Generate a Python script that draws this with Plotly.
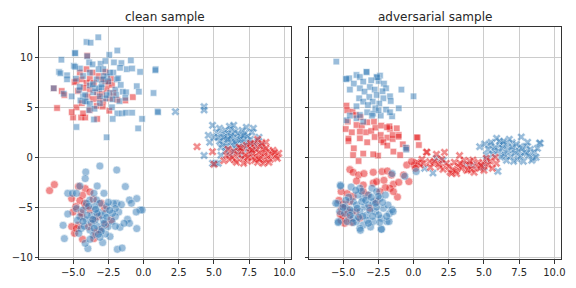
import plotly.graph_objects as go

RED = "#e41a1c"
BLUE = "#377eb8"

# ---------------- clean sample ----------------
clean_blue_sq = [(-3.21,12.0),(-4.05,11.53),(-3.76,11.46),(-4.86,10.44),(-1.86,10.68),(-2.43,10.24),(-5.83,9.76),
    (-4.0,10.1),(-3.86,9.49),(-3.62,9.29),(-3.05,9.35),(-2.71,9.63),(-2.1,9.49),(-1.57,9.42),(-0.9,9.69),(-1.67,8.95),
    (-1.19,8.81),(-0.81,8.88),(-0.24,8.54),(0.86,8.81),(-6.0,8.54),(-4.95,9.15),(-5.43,8.2),(-4.52,8.88),(-4.29,8.13),
    (-3.81,8.47),(-2.86,8.81),(-2.57,8.06),(-2.14,8.47),(-1.9,7.79),(-0.48,7.11),(-0.33,6.56),(0.71,6.43),(-6.38,6.9),
    (-5.67,6.36),(-5.1,6.09),(-4.57,6.7),(-4.29,6.09),(-4.05,5.58),(-3.57,6.5),(-3.14,6.84),(-2.38,6.43),(-2.0,6.77),
    (-1.48,6.56),(-1.24,6.5),(-1.71,5.61),(-2.24,5.0),(-1.86,4.39),(-1.52,4.39),(-1.24,4.46),(-0.81,4.46),(-0.1,3.84),
    (1.0,4.59),(-4.76,3.03),(-3.52,3.78),(-2.19,3.84),(-2.62,2.0),(-0.38,2.89),(-1.62,7.24),(-3.33,7.79),(-2.95,7.31),
    (-4.14,6.22),(-2.71,5.88),(-1.95,6.22),(-4.48,5.68),(-3.1,5.41),(-3.86,4.73),(-1.29,5.95),(-4.81,7.86),(-2.81,8.13),
    (-5.9,8.4),(-5.43,7.8),(-4.86,10.4),(-4.86,9.05),(0.84,8.7),(1.03,4.5),
    (-4.52,7.04),(-3.81,7.18),(-3.43,6.9),(-2.62,6.22),(-3.1,6.09),(-4.14,5.61),(-3.81,5.34),(-3.48,4.86),(-2.86,7.79),
    (-2.38,8.47),(-3.19,8.81),(-3.0,7.0),(-2.5,7.6),(-3.6,7.3),(-2.2,5.8),(-1.8,7.9)]
clean_red_sq = [(-4.0,10.17),(-4.52,8.47),(-4.76,7.62),(-4.9,7.52),(-4.4,7.79),(-4.05,7.45),(-3.81,7.86),(-3.52,7.45),
    (-3.19,8.13),(-2.95,7.79),(-2.71,7.59),(-2.52,7.45),(-2.29,7.86),(-3.62,8.47),(-4.24,6.94),(-3.81,6.77),(-3.29,6.5),
    (-2.95,6.36),(-2.62,6.84),(-3.95,6.09),(-3.57,5.82),(-3.19,5.88),(-2.86,5.61),(-2.38,5.88),(-2.14,6.43),(-5.81,6.63),
    (-5.62,6.22),(-6.14,4.93),(-5.0,3.98),(-4.76,4.99),(-4.43,3.98),(-4.14,3.98),(-3.81,4.73),(-3.29,3.84),(-2.43,4.66),
    (-1.29,5.68),(-0.76,6.02),(-1.86,5.75),(-4.67,6.63),(-4.38,5.41),(-3.33,5.14),(-2.9,5.07),(-4.05,8.81),(-2.71,8.54),
    (-2.24,7.24),(-4.29,4.39),(-5.1,4.52),(-6.37,6.9)]
clean_blue_x = [(4.9,3.2),(6.1,3.1),(4.6,2.2),(4.3,5.06),(4.3,4.73),(2.26,4.56),(4.3,0.17),(4.7,1.5),(4.9,-0.6),(5.1,-0.6),
    (5.3,-0.6),(5.5,1.0),(5.2,2.5),(5.4,2.9),(5.6,2.3),(5.7,1.8),(5.8,2.7),(5.9,2.1),(6.0,1.5),(6.0,2.4),(6.2,1.9),
    (6.2,2.8),(6.3,1.2),(6.3,2.3),(6.4,1.6),(6.5,2.6),(6.5,0.9),(6.6,2.0),(6.6,1.3),(6.7,2.4),(6.8,1.7),(6.8,0.7),
    (6.9,2.1),(7.0,1.4),(7.0,2.7),(7.1,1.0),(7.2,1.9),(7.2,2.4),(7.3,1.5),(7.4,0.8),(7.4,2.1),(7.5,1.2),(7.6,1.8),
    (7.7,2.5),(7.8,1.4),(7.9,0.9),(8.1,1.6),(8.2,2.0),(5.6,1.3),(5.8,0.6),(6.1,0.3),(5.4,1.6),(5.0,2.0),(6.4,0.5),
    (7.6,0.4),(6.9,0.2),(5.9,1.1),(6.7,1.0),(7.3,3.0),(6.4,3.2),(5.3,2.0),(7.8,2.9),(8.4,1.2),(5.5,0.2),(6.2,2.1),
    (6.9,1.8),(6.5,1.5),(7.1,2.2),(5.7,2.0),(6.0,1.8)]
clean_red_x = [(3.8,1.06),(4.9,0.56),(5.7,-0.34),(5.0,-0.7),(5.9,0.2),(6.1,-0.2),(6.4,0.6),(6.5,-0.3),(6.7,0.3),(6.8,1.0),
    (7.0,-0.1),(7.0,0.6),(7.2,0.2),(7.3,1.2),(7.4,-0.4),(7.5,0.5),(7.6,0.9),(7.7,-0.1),(7.8,0.4),(7.9,1.3),(8.0,0.1),
    (8.0,0.8),(8.1,-0.5),(8.2,0.5),(8.3,1.1),(8.3,-0.1),(8.4,0.3),(8.5,0.8),(8.6,-0.3),(8.6,0.4),(8.7,1.5),(8.8,0.1),
    (8.9,0.6),(9.0,-0.2),(9.1,0.3),(9.2,0.7),(9.4,0.1),(9.6,0.4),(8.1,1.8),(7.6,1.4),(7.1,-0.6),(8.5,-0.6),(6.3,0.0),
    (7.9,-0.3),(8.7,0.9),(9.3,0.5),(7.4,0.0),(6.9,0.9),(8.4,1.4),(7.7,0.7),(8.9,-0.5),(6.6,-0.5),(9.5,-0.1),(8.2,-0.2),
    (6.0,0.8)]
clean_blue_ci = [(-3.1,-0.87),(-1.9,-1.27),(-4.1,-1.47),(-4.14,-2.13),(-3.29,-2.87),(-1.29,-2.93),(-4.52,-2.87),(-5.38,-3.6),
    (-5.05,-3.6),(-4.76,-3.6),(-3.52,-3.6),(-2.81,-3.6),(-1.0,-4.27),(-0.48,-4.13),(-0.86,-4.6),(-1.9,-4.6),(-1.57,-4.73),
    (-2.14,-4.6),(-0.24,-5.27),(-0.1,-5.27),(-0.52,-5.47),(-5.38,-5.67),(-4.76,-5.13),(-3.81,-4.27),(-3.33,-4.27),
    (-3.1,-4.6),(-2.62,-4.93),(-1.76,-5.47),(-2.0,-5.93),(-1.14,-6.2),(-1.0,-6.6),(-1.67,-7.0),(-0.48,-7.13),(-5.71,-6.8),
    (-5.62,-8.13),(-3.95,-9.13),(-1.86,-9.2),(-1.52,-9.07),(-2.9,-8.53),(-2.38,-7.93),(-2.71,-7.67),(-4.14,-8.6),
    (-4.43,-7.13),(-4.05,-6.27),(-3.67,-5.8),(-3.19,-5.47),(-2.86,-6.27),(-3.29,-6.87),(-3.81,-7.27),(-2.52,-6.93),
    (-2.24,-6.4),(-4.29,-5.27),(-4.52,-5.93),(-3.48,-4.93),(-3.0,-5.8),(-3.43,-6.27),(-2.71,-5.6),(-4.05,-4.6),
    (-2.95,-7.13),(-3.57,-7.8),(-2.0,-5.13),(-1.38,-6.6),(-3.7,-6.6),(-3.3,-5.6),(-2.6,-6.0),(-4.0,-5.8),(-3.0,-7.4),
    (-2.2,-5.6),(-3.9,-4.9),(-4.7,-6.3),(-2.5,-4.5),(-3.5,-7.1),(-4.2,-6.9),(-2.0,-6.9),(-3.1,-8.0),(-4.6,-7.6),
    (-3.8,-8.2),(-3.4,-5.2),(-2.8,-6.6),(-3.6,-6.2),(-2.4,-5.3),(-4.3,-6.4),(-3.2,-7.7)]
clean_red_ci = [(-6.67,-3.33),(-6.33,-2.73),(-4.62,-2.93),(-4.14,-3.13),(-3.81,-3.47),(-4.33,-3.8),(-5.1,-4.13),(-4.52,-4.33),
    (-4.19,-4.6),(-5.0,-5.47),(-5.1,-6.93),(-4.9,-7.6),(-4.33,-8.2),(-3.52,-8.13),(-2.29,-6.27),(-4.81,-4.93),
    (-3.81,-5.27),(-4.38,-5.93),(-4.62,-6.8),(-3.57,-6.27),(-3.1,-7.27),(-3.9,-6.93),(-2.76,-5.13),(-4.43,-5.53),
    (-3.57,-4.2),(-4.76,-7.13),(-3.24,-5.93),(-3.4,-7.5),(-2.7,-6.7),(-4.1,-4.9),(-3.0,-4.6)]

# ---------------- adversarial sample ----------------
adv_blue_sq = [(-5.48,9.57),(-4.81,7.83),(-4.57,7.9),(-4.05,8.23),(-3.81,8.03),(-3.33,8.5),(-2.62,8.03),(-2.38,8.17),
    (-2.48,7.63),(-2.1,7.37),(-3.57,7.57),(-4.24,7.37),(-3.1,7.03),(-3.81,6.9),(-4.52,6.77),(-3.48,6.57),(-2.76,6.77),
    (-1.95,6.9),(-0.86,6.77),(-2.62,6.23),(-1.67,6.1),(-2.14,5.9),(0.0,6.1),(-3.14,6.03),(-3.86,5.9),(-3.57,5.57),
    (-2.9,5.57),(-2.43,5.37),(-1.62,5.63),(-1.05,4.9),(-4.05,5.1),(-3.24,5.23),(-2.71,4.9),(-1.95,4.77),(-3.29,4.5),
    (-4.05,3.9),(-4.76,3.7),(-3.81,4.23),(-2.33,4.17),(-1.52,4.1),(-3.57,3.57),(-4.52,4.17),(-2.86,4.37),(-2.48,4.7),
    (-0.55,0.97),(-3.34,8.55),(-2.59,8.0),(-4.76,7.83),(-2.95,4.17),(-1.67,4.5),(-0.52,0.77),(-3.0,7.7),(-2.2,6.6)]
adv_red_sq = [(-4.76,5.17),(-4.71,4.7),(-4.67,3.57),(-4.81,2.83),(-4.33,4.57),(-4.1,4.23),(-3.76,4.03),(-4.05,3.23),
    (-3.67,3.17),(-3.29,3.5),(-3.38,2.5),(-3.0,2.63),(-2.71,2.97),(-2.29,3.17),(-3.81,1.9),(-4.62,1.63),(-4.24,0.9),
    (-4.29,0.23),(-3.9,-0.37),(-3.57,0.37),(-3.29,1.5),(-2.76,2.03),(-2.33,2.23),(-2.29,1.7),(-1.86,1.97),(-1.48,1.83),
    (-1.05,2.23),(-0.76,1.3),(-1.43,0.57),(-0.95,0.23),(-0.48,0.9),(-2.52,0.17),(-2.86,0.3),(-1.67,2.83),(-1.48,2.23),
    (-2.14,1.5),(0.29,1.97),(0.38,1.23),(-1.86,1.17),(-4.38,2.5),(-3.81,2.57),(-2.81,3.57),(-1.19,2.9),(-1.71,3.1),
    (-1.88,3.0),(0.24,2.0),(-1.06,2.06),(-4.62,1.87)]
adv_blue_x = [(4.7,1.06),(5.45,1.23),(6.15,1.23),(7.1,0.73),(8.04,0.4),(9.0,1.4),(8.5,-0.1),(7.57,1.06),(6.39,0.4),
    (5.69,0.73),(5.17,0.23),(5.99,-1.4),(4.81,-0.93),(1.38,-1.57),(1.62,-0.1),(0.79,-1.1),(5.05,1.33),(6.35,1.37),
    (7.65,2.03),(8.95,1.43),(7.0,1.47),(5.3,0.8),(5.6,0.3),(5.8,1.0),(6.0,0.6),(6.1,1.6),(6.3,0.9),(6.5,0.2),(6.6,1.2),
    (6.7,0.7),(6.8,1.8),(6.9,0.1),(7.0,1.0),(7.2,0.4),(7.3,1.3),(7.4,-0.2),(7.5,0.6),(7.6,0.1),(7.7,0.9),(7.8,-0.4),
    (7.9,0.5),(8.0,1.1),(8.2,0.2),(8.3,0.8),(8.4,-0.3),(8.6,0.5),(8.7,0.0),(8.8,0.9),(6.2,0.0),(5.5,1.5),(5.9,1.9),
    (6.4,1.6),(7.1,-0.4),(8.1,1.5),(6.6,-0.3),(5.2,-0.3),(3.75,-0.73),(4.2,-0.8),(2.1,-0.3),(5.0,-1.0)]
adv_red_x = [(0.32,-0.6),(0.92,0.53),(1.63,0.3),(2.2,0.5),(3.27,0.17),(4.22,-0.27),(5.17,-0.1),(5.88,-0.6),(1.88,-0.97),
    (2.59,-1.47),(3.06,-1.63),(3.77,-1.3),(4.48,-0.97),(4.96,-0.63),(0.47,-0.77),(1.39,-0.6),(2.33,-0.6),(2.8,-1.2),
    (3.51,-0.77),(3.98,-0.77),(4.7,-1.1),(5.45,-0.37),(3.87,-1.27),(3.16,-0.93),(2.1,-1.2),(1.15,-0.43),(0.95,0.5),
    (0.24,-0.5),(0.71,-0.6),(1.48,-0.43),(2.5,-0.9),(2.9,-0.5),(3.4,-1.1),(4.1,-1.2),(4.6,-0.5),(5.3,-0.8),(5.6,-1.1),
    (1.2,-1.0),(2.0,-0.2),(3.6,-0.3),(4.3,-1.5),(5.0,-1.3),(0.6,-0.2),(1.8,-0.7),(2.7,-1.6),(3.3,-0.6),(4.0,-0.4),
    (4.8,-0.8),(5.8,0.0),(3.0,-1.4)]
adv_blue_ci = [(-5.19,-2.77),(-4.43,-2.97),(-1.52,-1.63),(-0.62,-1.9),(0.19,-1.43),(-5.38,-4.63),(-5.24,-5.43),
    (-5.33,-6.43),(-4.86,-4.97),(-4.71,-6.43),(-4.29,-4.43),(-4.33,-5.43),(-4.05,-6.43),(-3.81,-3.1),(-3.57,-4.1),
    (-3.48,-4.97),(-3.33,-5.77),(-3.57,-6.77),(-3.81,-7.1),(-2.95,-3.1),(-2.86,-4.43),(-2.71,-5.43),(-2.86,-6.43),
    (-3.05,-6.97),(-2.38,-4.1),(-2.14,-5.1),(-2.29,-6.1),(-2.29,-7.17),(-1.81,-4.77),(-1.71,-5.63),(-1.52,-5.23),
    (-1.9,-6.43),(-3.19,-3.77),(-3.95,-3.77),(-4.52,-5.23),(-4.05,-4.77),(-3.81,-5.43),(-3.19,-4.77),(-2.62,-4.97),
    (-2.48,-5.77),(-3.29,-6.3),(-4.29,-6.1),(-3.67,-4.43),(-2.62,-3.43),(-2.0,-3.77),(-1.45,-5.43),(-1.74,-6.43),
    (-2.28,-7.2),(-3.77,-7.3),(-4.29,-6.53),(-5.35,-6.53),(-5.52,-4.6),(-5.18,-2.87),(-4.9,-5.6),(-4.6,-4.0),
    (-4.0,-5.1),(-3.6,-5.9),(-3.1,-5.3),(-2.7,-4.6),(-3.4,-4.3),(-3.9,-6.0),(-4.5,-5.8),(-2.9,-5.9),(-2.4,-6.5),
    (-3.2,-6.6),(-4.8,-4.3),(-5.0,-5.0),(-3.7,-3.4),(-2.2,-4.5),(-4.1,-3.3),(-1.9,-5.9),(-2.5,-3.9),(-3.0,-4.0)]
adv_red_ci = [(-4.52,-1.23),(-4.29,-1.5),(-3.9,-1.77),(-3.52,-1.63),(-2.86,-1.5),(-2.24,-1.43),(-1.86,-1.37),(-1.57,-1.77),
    (-2.1,-2.3),(-2.86,-2.57),(-3.57,-2.77),(-4.05,-2.37),(-1.43,-2.7),(-1.05,-2.5),(-0.33,-2.43),(-0.48,-0.77),
    (0.05,-0.77),(-0.14,-0.43),(-1.67,-3.1),(-2.0,-3.03),(-1.14,-3.97),(-1.43,-3.43),(-5.14,-3.43),(-4.71,-3.63),
    (-5.29,-4.3),(-5.1,-5.1),(-5.0,-5.9),(-5.14,-6.3),(-4.71,-5.23),(-4.52,-4.43),(-4.1,-5.43),(-3.81,-6.1),(-2.62,-4.43),
    (-2.38,-3.43),(-3.29,-3.77),(-4.29,-3.9),(-3.1,-5.1),(-4.57,-6.1),(-3.57,-3.43),(-0.71,-1.77),(-2.62,-2.43),
    (0.14,-1.1),(-5.0,-4.7),(-4.6,-5.5),(-4.9,-6.6),(-5.2,-5.7),(-4.4,-6.5)]

x_range = [-7.4, 10.45]
y_range = [-10.2, 13.0]
x_ticks = [-5, -2.5, 0, 2.5, 5, 7.5, 10]
y_ticks = [-10, -5, 0, 5, 10]
titles = ["clean sample", "adversarial sample"]

fig = go.Figure()

def add(points, color, symbol, size, xa, ya):
    xs = [p[0] for p in points]
    ys = [p[1] for p in points]
    fig.add_trace(go.Scatter(
        x=xs, y=ys, mode="markers", xaxis=xa, yaxis=ya, showlegend=False,
        marker=dict(color=color, symbol=symbol, size=size, opacity=0.5,
                    line=dict(color="white", width=0.6))))

panels = [
    ("x", "y", [(clean_red_sq, RED, "square", 6.5), (clean_blue_sq, BLUE, "square", 6.5),
                (clean_blue_x, BLUE, "x", 7.5), (clean_red_x, RED, "x", 7.5),
                (clean_red_ci, RED, "circle", 8), (clean_blue_ci, BLUE, "circle", 8)]),
    ("x2", "y2", [(adv_red_sq, RED, "square", 6.5), (adv_blue_sq, BLUE, "square", 6.5),
                  (adv_blue_x, BLUE, "x", 7.5), (adv_red_x, RED, "x", 7.5),
                  (adv_red_ci, RED, "circle", 8), (adv_blue_ci, BLUE, "circle", 8)]),
]
for xa, ya, series in panels:
    for pts, c, s, sz in series:
        add(pts, c, s, sz, xa, ya)

W, H = 576, 288
left_dom = [39.3 / W, 290.7 / W]
right_dom = [309.3 / W, 560.7 / W]
y_dom = [(H - 259.3) / H, (H - 27.3) / H]

axis_common = dict(showgrid=True, gridcolor="#cccccc", gridwidth=0.8, zeroline=False,
                   showline=True, linecolor="#333333", linewidth=1.1, mirror=True,
                   ticks="outside", ticklen=3.5, tickwidth=1, tickcolor="#333333", automargin=False,
                   tickfont=dict(family="DejaVu Sans", size=10, color="#262626"))

fig.update_layout(
    width=W, height=H, margin=dict(l=0, r=0, t=0, b=0, autoexpand=False),
    paper_bgcolor="white", plot_bgcolor="white",
    xaxis=dict(domain=left_dom, range=x_range, tickvals=x_ticks, tickformat=".1f", anchor="y", **axis_common),
    yaxis=dict(domain=y_dom, range=y_range, tickvals=y_ticks, anchor="x", **axis_common),
    xaxis2=dict(domain=right_dom, range=x_range, tickvals=x_ticks, tickformat=".1f", anchor="y2", **axis_common),
    yaxis2=dict(domain=y_dom, range=y_range, tickvals=y_ticks, anchor="x2", showticklabels=False,
                matches="y", **axis_common),
)

for i, t in enumerate(titles):
    dom = left_dom if i == 0 else right_dom
    fig.add_annotation(text=t, x=(dom[0] + dom[1]) / 2, y=(H - 17) / H, xref="paper", yref="paper",
                       showarrow=False, xanchor="center", yanchor="middle",
                       font=dict(family="DejaVu Sans", size=12, color="#262626"))

fig.write_html("out.html", config={"displayModeBar": False},
               post_script="document.body.style.margin='0';document.body.style.padding='0';")
